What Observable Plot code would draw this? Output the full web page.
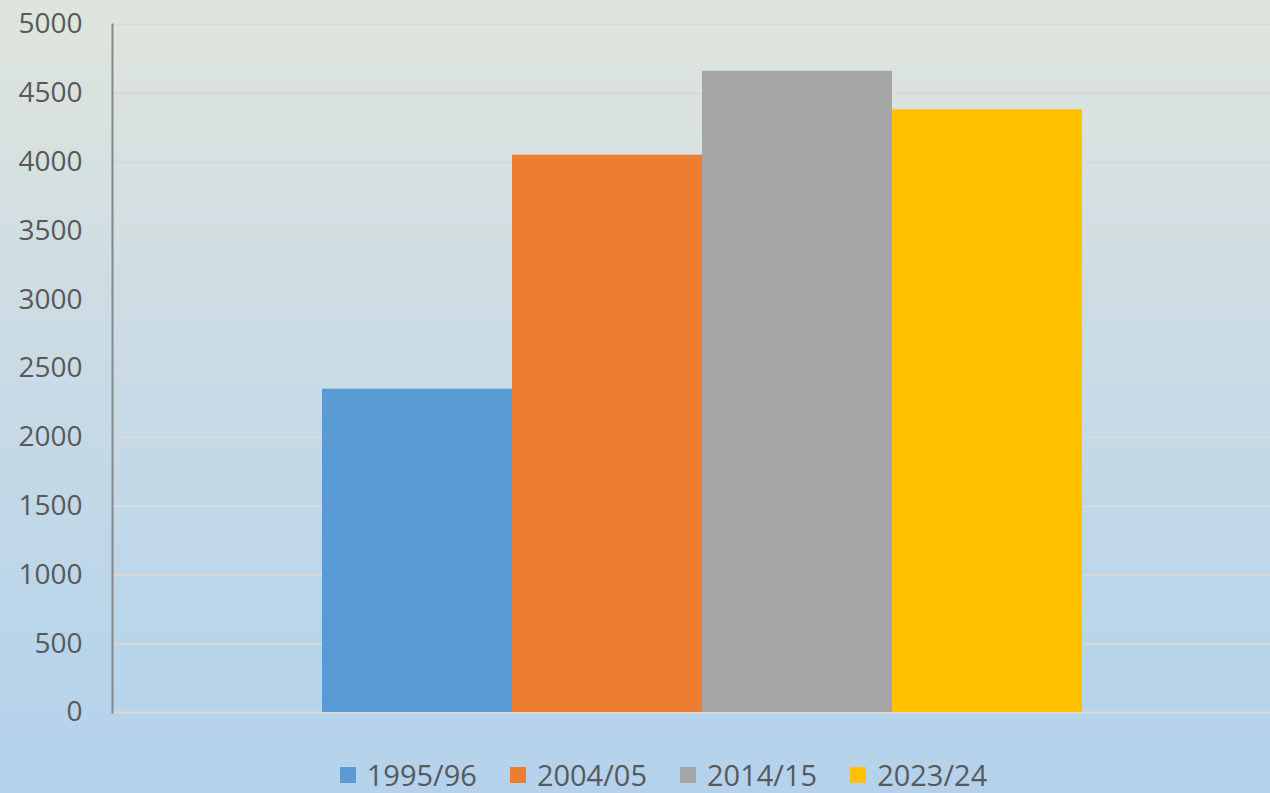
<!DOCTYPE html>
<html>
<head>
<meta charset="utf-8">
<script src="https://cdn.jsdelivr.net/npm/d3@7"></script>
<script src="https://cdn.jsdelivr.net/npm/@observablehq/plot@0.6"></script>
<style>
  html, body { margin: 0; padding: 0; }
  body {
    width: 1270px; height: 793px; overflow: hidden;
    background: linear-gradient(to bottom, #dfe5dc 0%, #cfdde3 35%, #b9d5ea 80%, #b4d2ec 100%);
    font-family: "Open Sans", "Liberation Sans", sans-serif;
  }
  #chart svg { display: block; background: transparent; }
  #legend {
    display: flex; justify-content: center; align-items: center;
    height: 37px; padding-top: 26px; color: #595959; font-size: 29px;
    padding-left: 57px;
  }
  .item { display: flex; align-items: center; margin: 0 16.5px; }
  .sw { width: 16px; height: 16px; margin-right: 11px; }
</style>
</head>
<body>
<div id="chart"></div>
<div id="legend"></div>
<script>
const series = ["1995/96", "2004/05", "2014/15", "2023/24"];
const values = [2350, 4050, 4660, 4380];
const colors = ["#5b9bd5", "#ed7d31", "#a5a5a5", "#ffc000"];
const yTicks = [0, 500, 1000, 1500, 2000, 2500, 3000, 3500, 4000, 4500, 5000];

const data = series.map((s, i) => ({series: s, value: values[i]}));

const chart = Plot.plot({
  width: 1270,
  height: 730,
  marginLeft: 112,
  marginRight: 0,
  marginTop: 24,
  marginBottom: 18,
  style: {background: "transparent", fontFamily: "'Open Sans', 'Liberation Sans', sans-serif", fontSize: "28px", color: "#595959", overflow: "visible"},
  x: {type: "band", domain: series, range: [321, 1083], padding: 0, axis: null},
  y: {domain: [0, 5000], ticks: yTicks},
  color: {domain: series, range: colors},
  marks: [
    Plot.ruleY(yTicks, {stroke: "#d9d9d9", strokeWidth: 2}),
    Plot.barY(data, {x: "series", y: "value", fill: "series", inset: 0}),
    Plot.axisY(yTicks, {tickSize: 0, tickPadding: 30, label: null, fill: "#595959", fontSize: 28, tickFormat: d => String(d)}),
    Plot.frame({anchor: "left", stroke: "#888888", strokeWidth: 2})
  ]
});
document.getElementById("chart").appendChild(chart);

const legend = document.getElementById("legend");
series.forEach((s, i) => {
  const item = document.createElement("div");
  item.className = "item";
  const sw = document.createElement("span");
  sw.className = "sw";
  sw.style.background = colors[i];
  const t = document.createElement("span");
  t.textContent = s;
  item.appendChild(sw);
  item.appendChild(t);
  legend.appendChild(item);
});
</script>
</body>
</html>
